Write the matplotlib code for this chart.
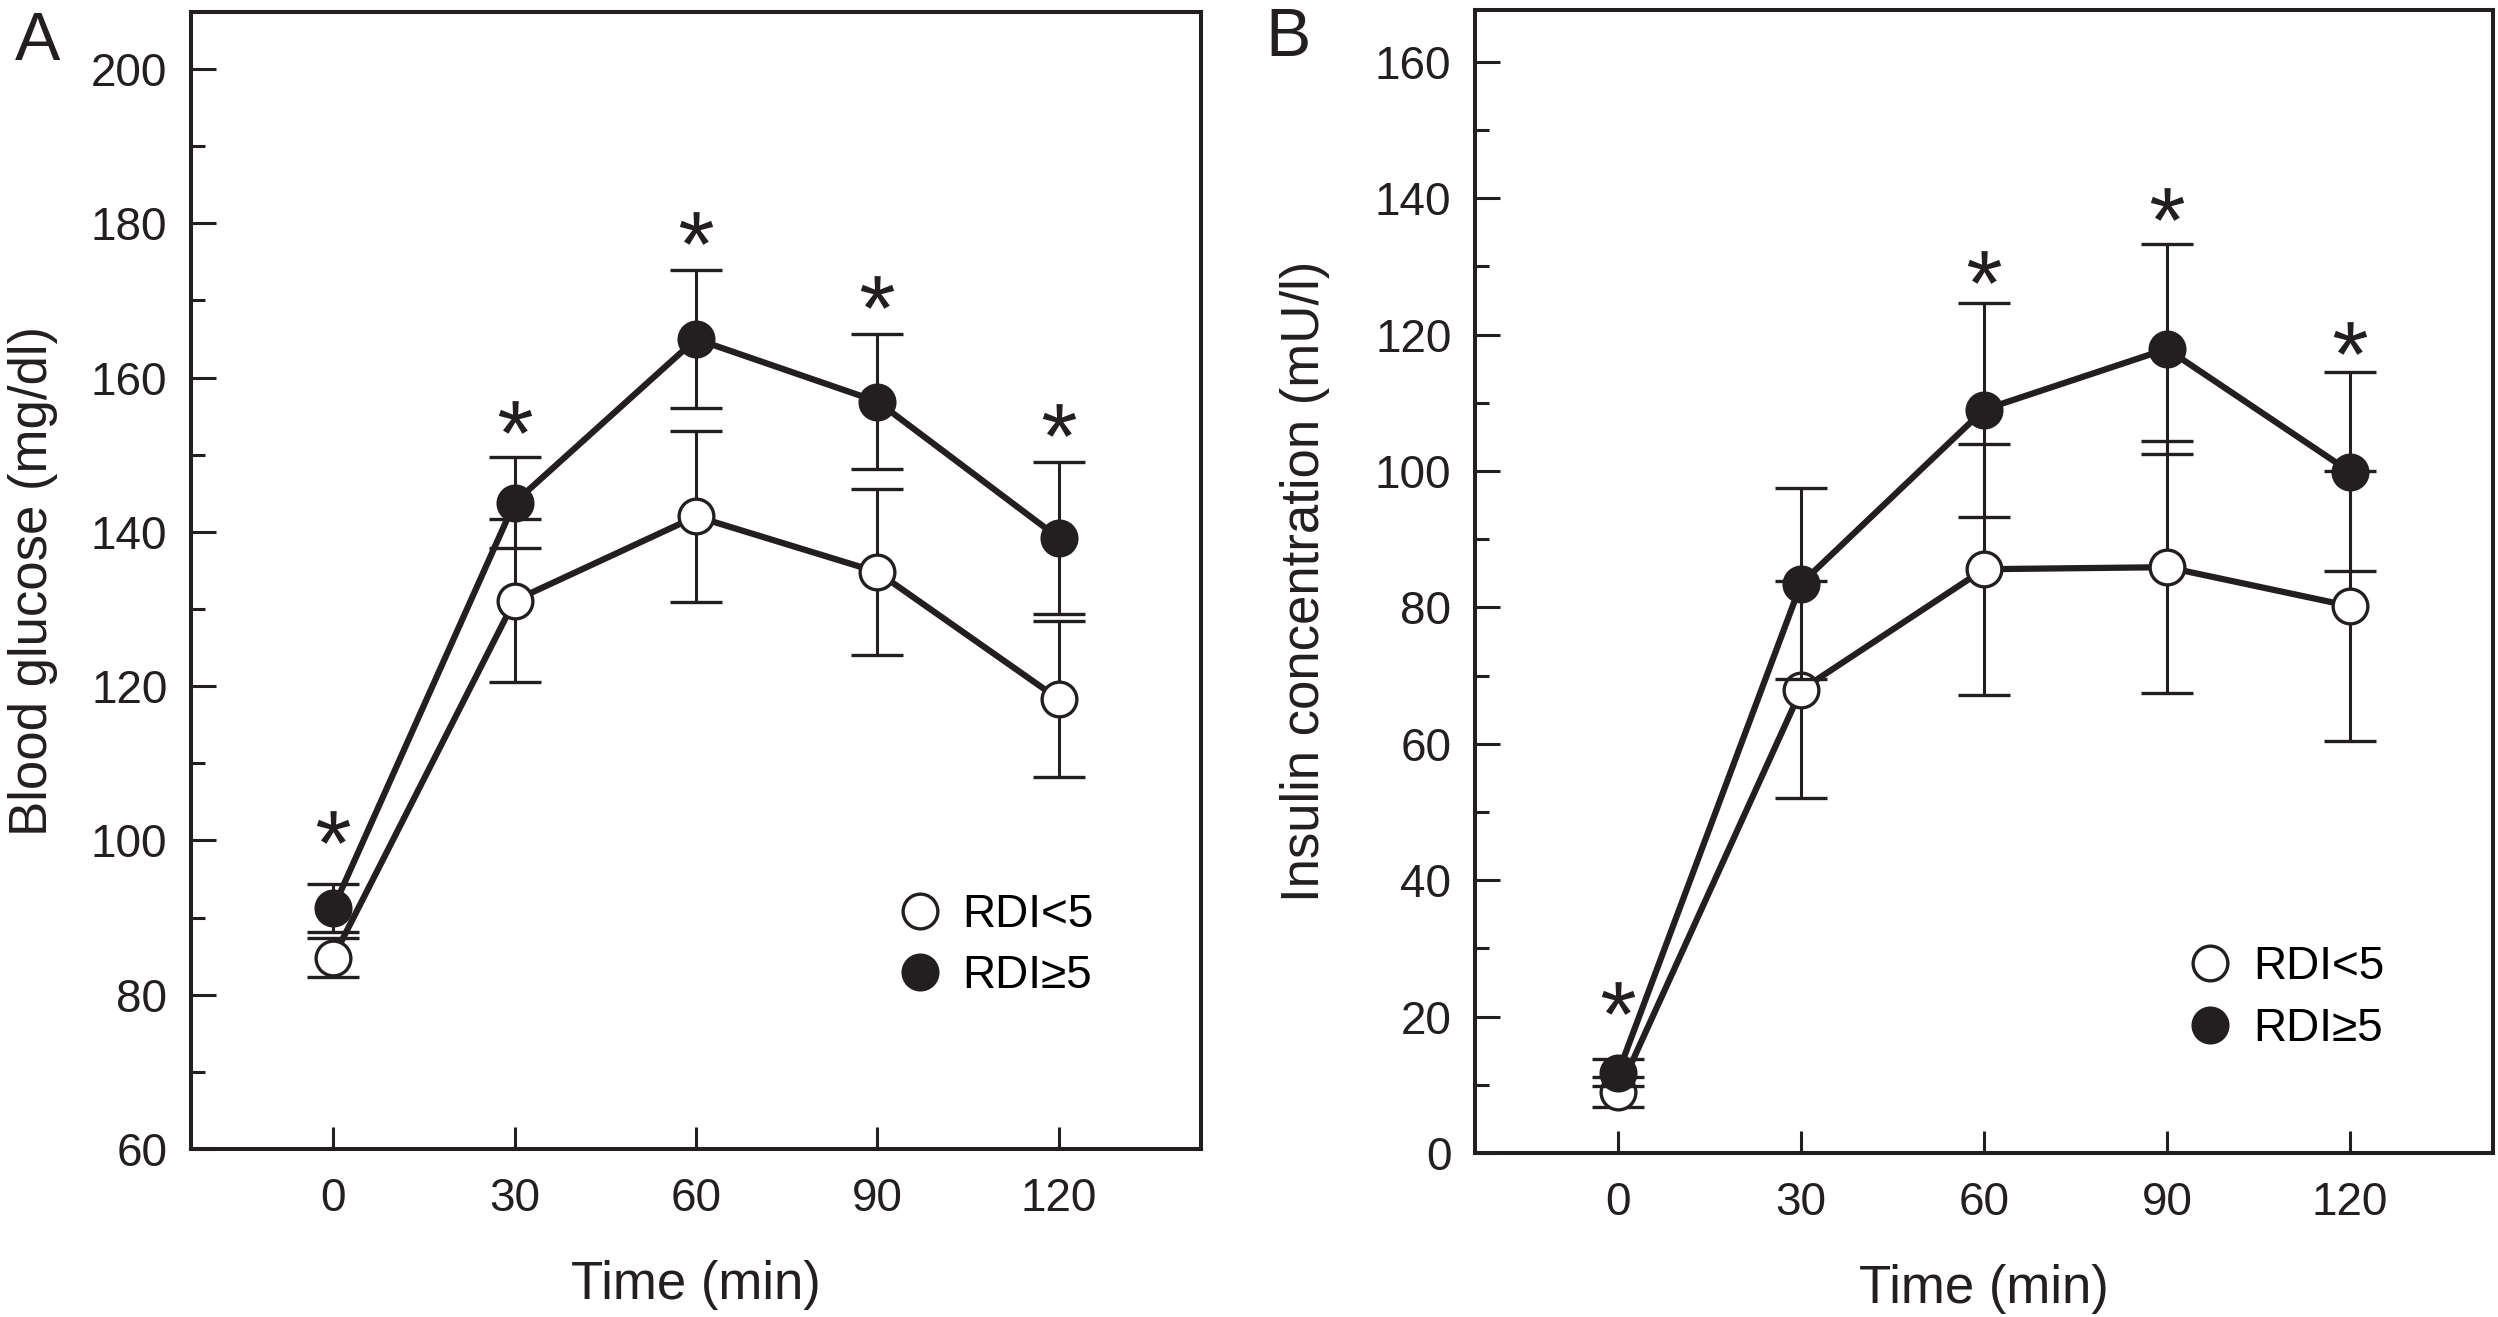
import numpy as np
import matplotlib
matplotlib.use("Agg")
import matplotlib.pyplot as plt
from matplotlib.ticker import MultipleLocator
from matplotlib.lines import Line2D

plt.rcParams['font.family'] = ['Liberation Sans', 'DejaVu Sans']
plt.rcParams['mathtext.fontset'] = 'custom'
plt.rcParams['mathtext.rm'] = 'Liberation Sans'
plt.rcParams['mathtext.it'] = 'Liberation Sans'

INK = '#231f20'

# time points (min)
time_min = [0, 30, 60, 90, 120]

# panel A: blood glucose (mg/dl), mean and SD
glu_low = [84.8, 131.1, 142.0, 134.8, 118.3]      # RDI<5
glu_low_sd = [2.5, 10.6, 11.1, 10.8, 10.1]
glu_high = [91.2, 143.8, 165.0, 156.9, 139.2]     # RDI>=5
glu_high_sd = [3.1, 5.9, 9.0, 8.7, 9.8]
glu_star_x = [0, 30, 60, 90, 120]
glu_star_y = [101.7, 154.9, 179.4, 171.1, 154.5]

# panel B: insulin (mU/l), mean and SD
ins_low = [8.9, 67.9, 85.6, 85.9, 80.2]
ins_low_sd = [2.2, 15.9, 18.4, 18.5, 19.8]
ins_high = [11.8, 83.5, 109.0, 117.9, 99.9]
ins_high_sd = [2.0, 14.0, 15.7, 15.4, 14.6]
ins_star_x = [0, 60, 90, 120]
ins_star_y = [22.7, 129.9, 139.1, 119.5]

labels = ['RDI<5', 'RDI≥5']

W, H = 2498, 1317
fig = plt.figure(figsize=(W / 100, H / 100), dpi=100)

def px_axes(left, top, right, bottom):
    return fig.add_axes([left / W, 1 - bottom / H, (right - left) / W, (bottom - top) / H])

def draw_panel(ax, low, low_sd, high, high_sd, star_x, star_y, ylim, ymajor, ylabel, ylabelpad, leg_xy):
    kw = dict(fmt='-o', color=INK, lw=4.5, ms=25, mew=2.4, ecolor=INK,
              elinewidth=2.2, capsize=18.5, capthick=2.2)
    ax.errorbar(time_min, low, yerr=low_sd, mfc='white', mec=INK, zorder=3, **kw)
    ax.errorbar(time_min, high, yerr=high_sd, mfc=INK, mec=INK, zorder=4, **kw)
    ax.plot(star_x, star_y, ls='none', marker='$*$', ms=24, color=INK, mew=0)

    ax.set_xlim(-23.5, 143.5)
    ax.set_ylim(*ylim)
    ax.set_xticks(time_min)
    ax.yaxis.set_major_locator(MultipleLocator(ymajor))
    ax.yaxis.set_minor_locator(MultipleLocator(ymajor / 2))
    ax.tick_params(axis='both', which='both', direction='in', colors=INK,
                   labelsize=33, width=2.2, right=False, top=False)
    ax.tick_params(axis='y', which='major', length=18, pad=17)
    ax.tick_params(axis='y', which='minor', length=10)
    ax.tick_params(axis='x', which='major', length=16, pad=20)
    for s in ax.spines.values():
        s.set_linewidth(2.9)
        s.set_color(INK)
    ax.set_xlabel('Time (min)', fontsize=38, color=INK, labelpad=28)
    ax.set_ylabel(ylabel, fontsize=38, color=INK, labelpad=ylabelpad)

    handles = [Line2D([], [], ls='none', marker='o', ms=25, mew=2.4, mec=INK, mfc='white'),
               Line2D([], [], ls='none', marker='o', ms=25, mew=2.4, mec=INK, mfc=INK)]
    ax.legend(handles, labels, loc='center left', bbox_to_anchor=leg_xy, frameon=False,
              fontsize=33, numpoints=1, handlelength=0.5, handletextpad=0.69,
              labelspacing=0.38, borderpad=0, borderaxespad=0)

axA = px_axes(191, 12, 1201, 1149)
draw_panel(axA, glu_low, glu_low_sd, glu_high, glu_high_sd, glu_star_x, glu_star_y,
           (60, 207.4), 20, 'Blood glucose (mg/dl)', 24, (0.710, 0.179))

axB = px_axes(1475, 10, 2493, 1153)
draw_panel(axB, ins_low, ins_low_sd, ins_high, ins_high_sd, ins_star_x, ins_star_y,
           (0, 167.6), 20, 'Insulin concentration (mU/l)', 32, (0.711, 0.1355))

fig.text(15 / W, 1 - 60 / H, 'A', fontsize=49, color=INK, va='baseline')
fig.text(1265 / W, 1 - 56 / H, 'B', fontsize=49, color=INK, va='baseline')

fig.savefig('out.png', dpi=100)
